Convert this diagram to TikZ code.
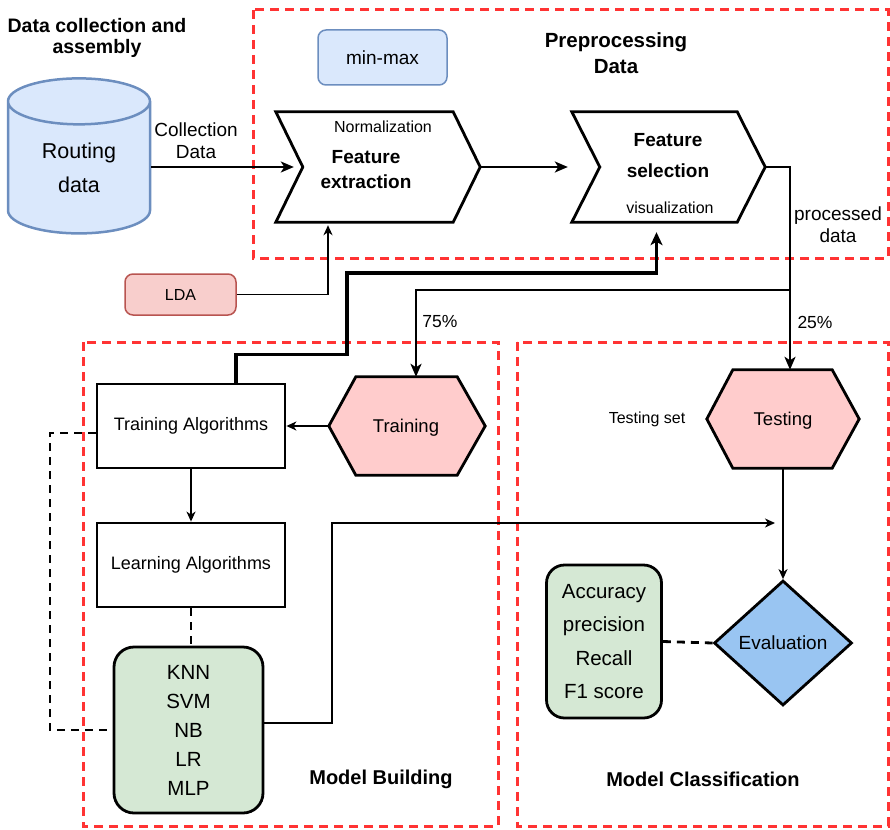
\documentclass[tikz,border=0pt]{standalone}
\usepackage{fontspec}
\setmainfont{Liberation Sans}
\usetikzlibrary{shapes,arrows.meta,positioning,calc}

\definecolor{dbfill}{HTML}{DAE8FC}
\definecolor{dbline}{HTML}{6C8EBF}
\definecolor{ldafill}{HTML}{F8CECC}
\definecolor{ldaline}{HTML}{B85450}
\definecolor{hexfill}{HTML}{FFCCCC}
\definecolor{algfill}{HTML}{D5E8D4}
\definecolor{evalfill}{HTML}{99C5F2}
\definecolor{grpline}{HTML}{FF3333}

\newcommand{\fsz}[2]{\fontsize{#1}{#2}\selectfont}

\begin{document}
\begin{tikzpicture}[x=1pt,y=-1pt,>={Stealth[length=10pt,width=9pt,inset=3pt]}]
    \tikzstyle{every node}=[inner sep=0pt,align=center]
    \tikzstyle{group}=[draw=grpline,line width=3pt,dash pattern=on 9pt off 6pt]   % frames
    \tikzstyle{box}=[rectangle,draw,line width=2.8pt,minimum width=188pt,minimum height=84pt,font=\fsz{18}{22}]
    \tikzstyle{soft}=[rectangle,rounded corners=8pt,line width=1.5pt,font=\fsz{19}{22}]
    \tikzstyle{algo}=[rectangle,rounded corners=20pt,draw,line width=2.8pt,fill=algfill]
    \tikzstyle{outline}=[line width=2.8pt,line join=miter]
    \tikzstyle{title}=[font=\bfseries\fsz{20}{22}]
    \tikzstyle{small}=[font=\fsz{16}{19}]
    \tikzstyle{lbl}=[font=\fsz{19}{22}]
    \tikzstyle{pct}=[font=\fsz{17.5}{20}]
    \tikzstyle{wire}=[line width=1.5pt]
    \tikzstyle{med}=[line width=2.3pt,>={Stealth[length=13pt,width=11pt,inset=3.5pt]}]
    \tikzstyle{fat}=[line width=3.2pt,>={Stealth[length=13pt,width=12pt,inset=3.5pt]}]
    \tikzstyle{dsh}=[line width=2.8pt,dash pattern=on 8pt off 6pt]

    \useasboundingbox (0,0) rectangle (890,829);

    % frames
    \draw[group] (253,10) rectangle (888,258);
    \draw[group] (83,342) rectangle (498,826);
    \draw[group] (517,342) rectangle (888,826);

    \node[title,font=\bfseries\fsz{19.5}{21.5}] (tdc) at (97,38) {Data collection and\\assembly};
    \node[title,font=\bfseries\fsz{20.5}{26}] (tpp) at (616,53) {Preprocessing\\Data};
    \node[title] (tmb) at (381,779) {Model Building};
    \node[title] (tmc) at (703,779) {Model Classification};

    % data source
    \node[cylinder,shape border rotate=90,aspect=0.62,draw=dbline,fill=dbfill,line width=2.5pt,
          minimum width=142pt,minimum height=155pt,font=\fsz{21.5}{34}] (db) at (79,168) {Routing\\data};
    \node[lbl] (cd) at (196,141) {Collection\\Data};

    % preprocessing
    \node[soft,draw=dbline,fill=dbfill,minimum width=129pt,minimum height=55pt] (mm) at (382.5,57.5) {min-max};
    \node[soft,draw=ldaline,fill=ldafill,minimum width=111pt,minimum height=41pt,font=\fsz{16}{19}] (lda) at (180.5,294.5) {LDA};

    \node[minimum width=204pt,minimum height=110pt] (fe) at (378,167) {};
    \draw[outline] (fe.north west) -- ($(fe.north east)+(-27,0)$) -- (fe.east)
        -- ($(fe.south east)+(-27,0)$) -- (fe.south west) -- ($(fe.west)+(27,0)$) -- cycle;
    \node[small] (norm) at (383,127) {Normalization};
    \node[title,font=\bfseries\fsz{19}{25}] (fet) at (366,170) {Feature\\extraction};

    \node[minimum width=193pt,minimum height=110pt] (fs) at (668.5,167) {};
    \draw[outline] (fs.north west) -- ($(fs.north east)+(-28,0)$) -- (fs.east)
        -- ($(fs.south east)+(-28,0)$) -- (fs.south west) -- ($(fs.west)+(28,0)$) -- cycle;
    \node[title,font=\bfseries\fsz{19}{31}] (fst) at (668,156) {Feature\\selection};
    \node[small] (vis) at (670,208) {visualization};
    \node[lbl] (pd) at (838,225) {processed\\data};

    % model building
    \node[box] (ta) at (191,426) {Training Algorithms};
    \node[box] (la) at (191,565) {Learning Algorithms};
    \node[algo,minimum width=149pt,minimum height=166pt,font=\fsz{20.5}{29}] (knn) at (188.5,730) {KNN\\SVM\\NB\\LR\\MLP};

    \node[minimum width=156pt,minimum height=98pt] (trn) at (407,426) {};
    \filldraw[outline,fill=hexfill] (trn.west) -- ($(trn.north west)+(27,0)$) -- ($(trn.north east)+(-28,0)$)
        -- (trn.east) -- ($(trn.south east)+(-28,0)$) -- ($(trn.south west)+(27,0)$) -- cycle;
    \node[font=\fsz{18.5}{22}] (trnt) at (406,428) {Training};

    % model classification
    \node[minimum width=152pt,minimum height=98pt] (tst) at (783,419) {};
    \filldraw[outline,fill=hexfill] (tst.west) -- ($(tst.north west)+(26,0)$) -- ($(tst.north east)+(-27,0)$)
        -- (tst.east) -- ($(tst.south east)+(-27,0)$) -- ($(tst.south west)+(26,0)$) -- cycle;
    \node[font=\fsz{18.5}{22}] (tstt) at (783,421) {Testing};
    \node[small] (tset) at (647,419) {Testing set};

    \node[diamond,draw,line width=2.8pt,fill=evalfill,minimum width=138pt,minimum height=125pt,
          font=\fsz{19}{22}] (eva) at (783,643) {Evaluation};
    \node[algo,minimum width=115pt,minimum height=153pt,rounded corners=18pt,font=\fsz{20.5}{33.5}] (met) at (604,641.5)
        {Accuracy\\precision\\Recall\\F1 score};

    % connectors
    \coordinate (br) at (790,290);
    \coordinate (c75) at (416,290);
    \coordinate (dl) at (50,433);
    \coordinate (ev) at (775,523);

    \draw[med,->] (db.east |- fe.west) -- ($(fe.west)+(18,0)$);
    \draw[med,->] (fe.east) -- ($(fs.west)+(-4,0)$);
    \draw[med] (fs.east) -| (br);
    \draw[med,->] (br) -- (br |- tst.north);
    \draw[med,->] (br) -- (c75) -- (c75 |- trn.north);
    \node[pct] (p75) at (440,322) {75\%};
    \node[pct] (p25) at (815,322) {25\%};

    \draw[fat,->] ($(ta.north)+(45,0)$) -- ++(0,-28) -| (347,273)
        -| ($(fs.south)+(-12,10)$);
    \draw[wire,->] (lda.east) -| ($(fe.south)+(-50,3)$);

    \draw[wire,->] (trn.west) -- (ta.east);
    \draw[wire,->] (ta.south) -- (la.north);
    \draw[dsh] (la.south) -- (la.south |- knn.north);
    \draw[dsh] ($(ta.west)+(0,7)$) -- (dl) |- (knn.west);
    \draw[wire,->] ($(knn.east)+(0,-7)$) -- (332,723) |- (ev);
    \draw[wire,->] (tst.south) -- (eva.north);
    \draw[dsh] (met.east) -- (eva.west);
\end{tikzpicture}
\end{document}
